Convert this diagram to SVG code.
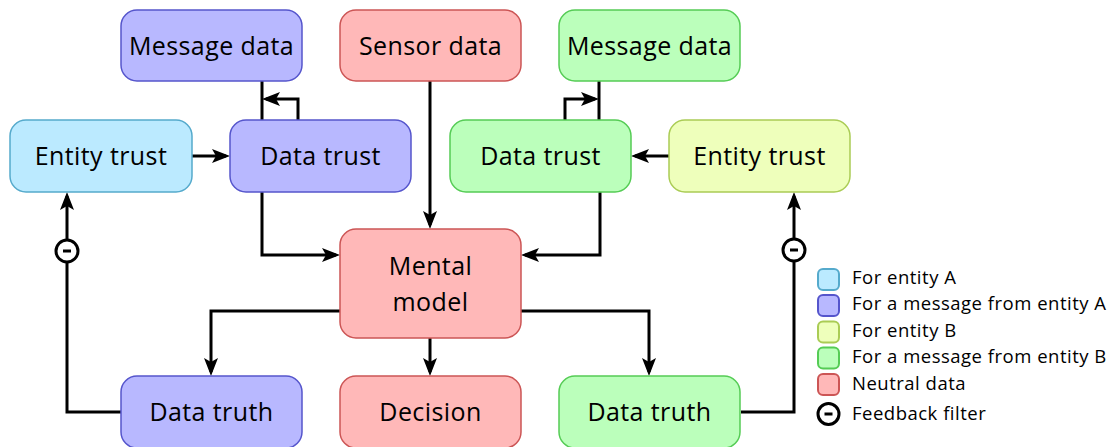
<svg xmlns="http://www.w3.org/2000/svg" width="1112" height="447" viewBox="0 0 1112 447">
<style>
.box{stroke-width:1.5}
.a{fill:#bbeaff;stroke:#55aacc}
.p{fill:#b8b8ff;stroke:#5555cc}
.y{fill:#eeffbb;stroke:#aacc55}
.g{fill:#bbffbb;stroke:#55cc55}
.r{fill:#ffb8b8;stroke:#cc5555}
.t{font-family:"Open Sans","DejaVu Sans",sans-serif;font-size:25px;letter-spacing:0.4px;fill:#000;text-anchor:middle}
.lt{font-family:"Open Sans","DejaVu Sans",sans-serif;font-size:18.5px;letter-spacing:0.5px;fill:#000}
.c{fill:none;stroke:#000;stroke-width:3}
.lg{stroke-width:2}
.f{fill:#fff;stroke:#000;stroke-width:3}
</style>
<defs>
<marker id="arr" markerUnits="userSpaceOnUse" viewBox="-20 -8 20 16" markerWidth="20" markerHeight="16" refX="-4" refY="0" orient="auto">
<path d="M0,0 L-18,-7 L-14,0 L-18,7 Z" fill="#000"/>
</marker>
</defs>
<g id="connectors">
<path class="c" d="M430,81 V225" marker-end="url(#arr)"/>
<path class="c" d="M192,156 H226" marker-end="url(#arr)"/>
<path class="c" d="M669,156 H635" marker-end="url(#arr)"/>
<path class="c" d="M262,192 V255 H336" marker-end="url(#arr)"/>
<path class="c" d="M600,192 V255 H525" marker-end="url(#arr)"/>
<path class="c" d="M340,311 H211 V372" marker-end="url(#arr)"/>
<path class="c" d="M430,338 V372" marker-end="url(#arr)"/>
<path class="c" d="M521,311 H649 V372" marker-end="url(#arr)"/>
<path class="c" d="M121,412 H67 V196" marker-end="url(#arr)"/>
<path class="c" d="M741,412 H794 V196" marker-end="url(#arr)"/>
<path class="c" d="M262,81 V120"/>
<path class="c" d="M298,120 V99 H266" marker-end="url(#arr)"/>
<path class="c" d="M599,81 V120"/>
<path class="c" d="M565,120 V99 H595" marker-end="url(#arr)"/>
</g>
<g id="filterA">
<circle class="f" cx="67" cy="251" r="11"/>
<rect x="63" y="249.5" width="8" height="3" fill="#000"/>
</g>
<g id="filterB">
<circle class="f" cx="794" cy="250" r="11"/>
<rect x="790" y="248.5" width="8" height="3" fill="#000"/>
</g>
<g id="msgA"><rect class="box p" x="121" y="10" width="181" height="71" rx="16"/><text class="t" x="211.5" y="54.5">Message data</text></g>
<g id="sensor"><rect class="box r" x="340" y="10" width="181" height="71" rx="16"/><text class="t" x="430.5" y="54.5">Sensor data</text></g>
<g id="msgB"><rect class="box g" x="559" y="10" width="181" height="71" rx="16"/><text class="t" x="649.5" y="54.5">Message data</text></g>
<g id="entityA"><rect class="box a" x="10" y="120" width="182" height="72" rx="16"/><text class="t" x="101" y="165">Entity trust</text></g>
<g id="trustA"><rect class="box p" x="230" y="120" width="181" height="72" rx="16"/><text class="t" x="320.5" y="165">Data trust</text></g>
<g id="trustB"><rect class="box g" x="450" y="120" width="181" height="72" rx="16"/><text class="t" x="540.5" y="165">Data trust</text></g>
<g id="entityB"><rect class="box y" x="669" y="120" width="181" height="72" rx="16"/><text class="t" x="759.5" y="165">Entity trust</text></g>
<g id="mental"><rect class="box r" x="340" y="229" width="181" height="109" rx="16"/><text class="t" x="430.5" y="275">Mental</text><text class="t" x="430.5" y="311">model</text></g>
<g id="truthA"><rect class="box p" x="121" y="376" width="181" height="72" rx="16"/><text class="t" x="211.5" y="421">Data truth</text></g>
<g id="decision"><rect class="box r" x="340" y="376" width="181" height="72" rx="16"/><text class="t" x="430.5" y="421">Decision</text></g>
<g id="truthB"><rect class="box g" x="559" y="376" width="181" height="72" rx="16"/><text class="t" x="649.5" y="421">Data truth</text></g>
<g id="legend">
<rect class="lg a" x="818" y="269" width="21" height="21" rx="5"/>
<text class="lt" x="852" y="284">For entity A</text>
<rect class="lg p" x="818" y="295" width="21" height="21" rx="5"/>
<text class="lt" x="852" y="310">For a message from entity A</text>
<rect class="lg y" x="818" y="321.5" width="21" height="21" rx="5"/>
<text class="lt" x="852" y="336.5">For entity B</text>
<rect class="lg g" x="818" y="347.5" width="21" height="21" rx="5"/>
<text class="lt" x="852" y="363">For a message from entity B</text>
<rect class="lg r" x="818" y="374" width="21" height="21" rx="5"/>
<text class="lt" x="852" y="389.5">Neutral data</text>
<circle class="f" cx="828.5" cy="414" r="10.5"/>
<rect x="824.5" y="412.5" width="8" height="3" fill="#000"/>
<text class="lt" x="852" y="420">Feedback filter</text>
</g>
</svg>
